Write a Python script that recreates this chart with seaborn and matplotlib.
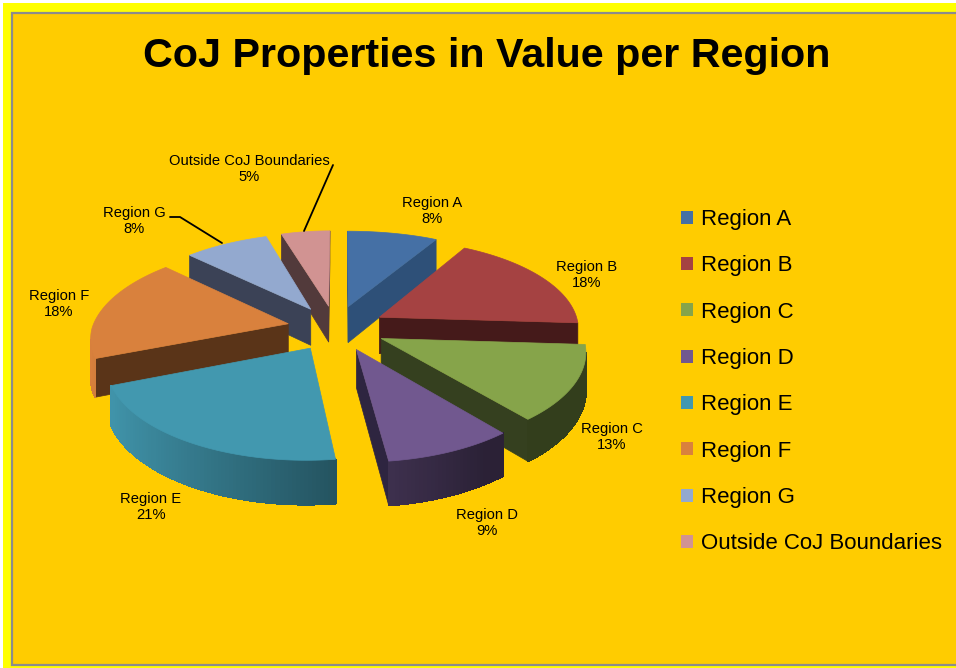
import numpy as np
import matplotlib
matplotlib.use('Agg')
import matplotlib.pyplot as plt
import seaborn as sns
from matplotlib.patches import Patch, Polygon, Rectangle

# chart data
regions = ['Region A', 'Region B', 'Region C', 'Region D', 'Region E', 'Region F', 'Region G',
           'Outside CoJ Boundaries']
shares = [8, 18, 13, 9, 21, 18, 8, 5]
top_colors = ['#4570A5', '#A54242', '#86A44A', '#71588F', '#4298AF', '#D9813D', '#93A9CF', '#D19392']
side_colors = ['#2E5078', '#451A1A', '#35401F', '#2E2540', '#2C6E82', '#5A3418', '#3B4256', '#523A3B']
title = 'CoJ Properties in Value per Region'

# where each data label sits, in pixels
label_xy = [(432, 211), (587, 275), (612, 437), (487, 523), (151, 507), (59, 304), (134, 221), (249, 169)]

sns.set_theme(style='white')
plt.rcParams['font.family'] = ['Liberation Sans', 'DejaVu Sans']

fig = plt.figure(figsize=(9.56, 6.68), dpi=100, facecolor='white')
ax = fig.add_axes([0, 0, 1, 1])
ax.set_xlim(0, 956)
ax.set_ylim(668, 0)
ax.axis('off')

# background bands
ax.add_patch(Rectangle((3, 3), 953, 665, fc='#FFFF00', ec='none', zorder=0))
ax.add_patch(Rectangle((12, 12.5), 960, 652.5, fc='#FFCC00', ec='#8C8C8C', lw=1.6, zorder=1))

# fake 3d pie: tilted disc with some perspective
cx, cy = 336, 328
rx, ry = 200, 91
persp = 0.135
explode = 0.25
depth = 37


def project(x, y, lower=False):
    s = 1 / (1 - persp * y)
    # the picture leans a little: narrower on the left and front right, back part moved right
    narrow = 0.98 if x < 0 else 1 - 0.02 * np.clip(y, 0, 1)
    px = rx * x * s * narrow + 5 * max(0, -y) * min(1, abs(x) * 2)
    return cx + px, cy + ry * y * s + (depth * s if lower else 0)


def shade(color, k):
    return tuple(np.clip(np.array(matplotlib.colors.to_rgb(color)) * k, 0, 1))


def draw_wedge(start, end, top_col, side_col):
    mid = np.radians((start + end) / 2)
    ox, oy = explode * np.sin(mid), -explode * np.cos(mid)
    thetas = np.radians(np.arange(start, end + 0.5, 1.0))
    thetas[-1] = np.radians(end)
    rim = [(ox + np.sin(t), oy - np.cos(t)) for t in thetas]
    apex = (ox, oy)

    p0 = project(*apex)
    q = project(ox + np.sin(mid), oy - np.cos(mid))
    # radial faces, only when they hang outside of the top
    for edge in (rim[0], rim[-1]):
        p1 = project(*edge)
        ex, ey = p1[0] - p0[0], p1[1] - p0[1]
        if ex * (ex * (q[1] - p0[1]) - ey * (q[0] - p0[0])) < 0:
            ax.add_patch(Polygon([p0, p1, project(*edge, lower=True), project(*apex, lower=True)],
                                 fc=side_col, ec=side_col, lw=0.5, zorder=3))

    # outer wall, split up so that it can get darker to the right
    for i in range(len(rim) - 1):
        a, b = project(*rim[i]), project(*rim[i + 1])
        if b[0] < a[0]:
            k = np.clip(0.6 - 0.4 * np.sin(thetas[i]), 0.38, 1.0)
            col = shade(top_col, k)
            ax.add_patch(Polygon([a, b, project(*rim[i + 1], lower=True), project(*rim[i], lower=True)],
                                 fc=col, ec=col, lw=0.8, antialiased=False, zorder=3))

    ax.add_patch(Polygon([p0] + [project(*p) for p in rim], fc=top_col, ec=top_col, lw=0.5, zorder=3))


edges = np.cumsum([0] + shares) / sum(shares) * 360
# paint from back to front
order = sorted(range(len(shares)), key=lambda i: -np.cos(np.radians((edges[i] + edges[i + 1]) / 2)))
palette = sns.color_palette(top_colors)
for i in order:
    draw_wedge(edges[i], edges[i + 1], palette[i], side_colors[i])

# data labels
for name, val, (x, y) in zip(regions, shares, label_xy):
    ax.text(x, y, f'{name}\n{val}%', ha='center', va='center', fontsize=10.6, color='black',
            linespacing=1.15, zorder=5)

# leader lines
ax.plot([170, 180, 222], [217, 217, 243], color='black', lw=1.3, zorder=4)
ax.plot([333, 304], [165, 231], color='black', lw=1.3, zorder=4)

ax.text(487, 56, title, ha='center', va='center', fontsize=29.7, fontweight='bold', color='black', zorder=5)

handles = [Patch(fc=c, ec='none', label=n) for c, n in zip(palette, regions)]
ax.legend(handles=handles, loc='upper left', bbox_to_anchor=(681.5, 209), bbox_transform=ax.transData,
          frameon=False, fontsize=16, handlelength=0.54, handleheight=0.54, handletextpad=0.32,
          labelspacing=1.14, borderpad=0, borderaxespad=0, labelcolor='black')

fig.savefig('out.png', dpi=100)
